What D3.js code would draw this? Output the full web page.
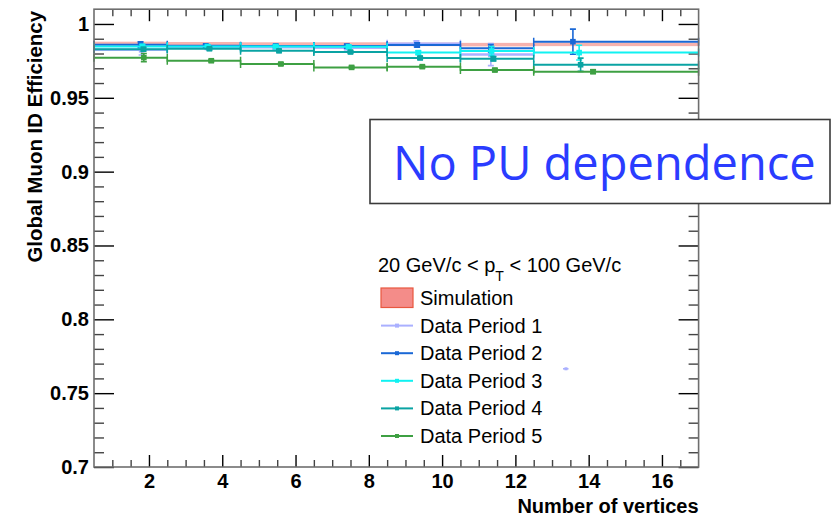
<!DOCTYPE html>
<html>
<head>
<meta charset="utf-8">
<script src="https://cdn.jsdelivr.net/npm/d3@7"></script>
<style>
  html, body { margin: 0; padding: 0; background: #fff; }
  svg { display: block; }
  text { font-family: "Liberation Sans", Arial, Helvetica, sans-serif; }
</style>
</head>
<body>
<svg id="chart" width="832" height="520"></svg>
<script>
// Global muon ID efficiency versus number of reconstructed vertices

// Bin edges in number of vertices
const binEdges = [0.5, 2.5, 4.5, 6.5, 8.5, 10.5, 12.5, 17];

// Simulation: efficiency per bin and its uncertainty (drawn as a band)
const simValues = [0.9868, 0.9866, 0.9864, 0.9864, 0.9862, 0.9860, 0.9862];
const simErrors = [0.0012, 0.0012, 0.0012, 0.0012, 0.0012, 0.0012, 0.0012];

// Data periods: mean vertex count, efficiency and uncertainty per bin
const period1X      = [1.80, 3.60, 5.45, 7.40, 9.30, 11.33, 13.38];
const period1XLow   = [0.5, 2.5, 4.5, 6.5, 8.5, 10.5, 13.30];
const period1XHigh  = [2.5, 4.5, 6.5, 8.5, 10.5, 12.5, 13.45];
const period1Values = [0.9825, 0.9842, 0.9843, 0.9840, 0.9866, 0.9793, 0.7665];
const period1Errors = [0.0035, 0.0015, 0.0015, 0.0015, 0.0020, 0.0075, 0.0002];

const period2X      = [1.77, 3.55, 5.46, 7.40, 9.32, 11.33, 13.57];
const period2Values = [0.9860, 0.9852, 0.9851, 0.9850, 0.9858, 0.9836, 0.9880];
const period2Errors = [0.0020, 0.0010, 0.0010, 0.0012, 0.0015, 0.0025, 0.0085];

const period3X      = [1.82, 3.60, 5.46, 7.45, 9.35, 11.35, 13.74];
const period3Values = [0.9847, 0.9847, 0.9847, 0.9845, 0.9806, 0.9817, 0.9806];
const period3Errors = [0.0015, 0.0010, 0.0010, 0.0010, 0.0012, 0.0030, 0.0050];

const period4X      = [1.85, 3.65, 5.55, 7.50, 9.40, 11.40, 13.78];
const period4Values = [0.9829, 0.9832, 0.9818, 0.9810, 0.9770, 0.9765, 0.9724];
const period4Errors = [0.0012, 0.0008, 0.0008, 0.0008, 0.0010, 0.0015, 0.0045];

const period5X      = [1.86, 3.70, 5.60, 7.53, 9.46, 11.44, 14.12];
const period5Values = [0.9772, 0.9751, 0.9729, 0.9706, 0.9711, 0.9688, 0.9677];
const period5Errors = [0.0028, 0.0008, 0.0008, 0.0008, 0.0008, 0.0010, 0.0012];

const seriesNames = ["Data Period 1", "Data Period 2", "Data Period 3", "Data Period 4", "Data Period 5"];
const seriesColors = ["#aab0ff", "#1a68d6", "#10f2f2", "#0aa3a3", "#3ea043"];

// Axis ticks and labels
const xMajorTicks = [2, 4, 6, 8, 10, 12, 14, 16];
const xTickLabels = ["2", "4", "6", "8", "10", "12", "14", "16"];
const yMajorTicks = [0.7, 0.75, 0.8, 0.85, 0.9, 0.95, 1.0];
const yTickLabels = ["0.7", "0.75", "0.8", "0.85", "0.9", "0.95", "1"];

const xTitle = "Number of vertices";
const yTitle = "Global Muon ID Efficiency";
const annotation = "No PU dependence";

// ---------------------------------------------------------------
const svg = d3.select("#chart");
const plot = { left: 94, right: 698.6, top: 9.2, bottom: 467 };

const x = d3.scaleLinear().domain([0.5, 17]).range([plot.left, plot.right]);
const y = d3.scaleLinear().domain([0.7, 1.01]).range([plot.bottom, plot.top]);

const xMinorTicks = d3.range(1, 17, 0.5).filter(v => !xMajorTicks.some(m => Math.abs(m - v) < 1e-9));
const yMinorTicks = d3.range(0, 31).map(i => +(0.7 + i * 0.01).toFixed(2))
  .filter(v => !yMajorTicks.some(m => Math.abs(m - v) < 1e-9));

const axes = svg.append("g").attr("class", "axes");

function styleAxis(g, color, width) {
  g.select(".domain").remove();
  g.selectAll(".tick line").attr("stroke", color).attr("stroke-width", width);
}

// minor ticks (inward)
axes.append("g").attr("transform", `translate(0,${plot.bottom})`)
  .call(d3.axisBottom(x).tickValues(xMinorTicks).tickSize(-7).tickFormat(""))
  .call(g => styleAxis(g, "#444", 1.4));
axes.append("g").attr("transform", `translate(0,${plot.top})`)
  .call(d3.axisTop(x).tickValues(xMinorTicks).tickSize(-7).tickFormat(""))
  .call(g => styleAxis(g, "#444", 1.4));
axes.append("g").attr("transform", `translate(${plot.left},0)`)
  .call(d3.axisLeft(y).tickValues(yMinorTicks).tickSize(-10).tickFormat(""))
  .call(g => styleAxis(g, "#444", 1.4));
axes.append("g").attr("transform", `translate(${plot.right},0)`)
  .call(d3.axisRight(y).tickValues(yMinorTicks).tickSize(-10).tickFormat(""))
  .call(g => styleAxis(g, "#444", 1.4));

// major ticks with labels
const xAxis = axes.append("g").attr("transform", `translate(0,${plot.bottom})`)
  .call(d3.axisBottom(x).tickValues(xMajorTicks).tickSize(-12).tickPadding(7)
    .tickFormat((d, i) => xTickLabels[i]))
  .call(g => styleAxis(g, "#000", 1.4));
xAxis.selectAll("text").attr("fill", "#000")
  .style("font-size", "20px").style("font-weight", "bold")
  .style("font-family", "'Liberation Sans', Arial, sans-serif");

axes.append("g").attr("transform", `translate(0,${plot.top})`)
  .call(d3.axisTop(x).tickValues(xMajorTicks).tickSize(-12).tickFormat(""))
  .call(g => styleAxis(g, "#000", 1.4));

const yAxis = axes.append("g").attr("transform", `translate(${plot.left},0)`)
  .call(d3.axisLeft(y).tickValues(yMajorTicks).tickSize(-20).tickPadding(5)
    .tickFormat((d, i) => yTickLabels[i]))
  .call(g => styleAxis(g, "#000", 1.4));
yAxis.selectAll("text").attr("fill", "#000")
  .style("font-size", "20px").style("font-weight", "bold")
  .style("font-family", "'Liberation Sans', Arial, sans-serif");

axes.append("g").attr("transform", `translate(${plot.right},0)`)
  .call(d3.axisRight(y).tickValues(yMajorTicks).tickSize(-20).tickFormat(""))
  .call(g => styleAxis(g, "#000", 1.4));

// ---------------------------------------------------------------
// Simulation band
const marks = svg.append("g").attr("class", "marks");
const simBins = simValues.map((v, i) => ({ x0: binEdges[i], x1: binEdges[i + 1], v, e: simErrors[i] }));
marks.append("g").selectAll("rect").data(simBins).join("rect")
  .attr("x", d => x(d.x0))
  .attr("width", d => x(d.x1) - x(d.x0))
  .attr("y", d => y(d.v + d.e))
  .attr("height", d => y(d.v - d.e) - y(d.v + d.e))
  .attr("fill", "#f6a4a0")
  .attr("opacity", 0.85);

// Data periods
const periods = [
  { xs: period1X, lo: period1XLow, hi: period1XHigh, v: period1Values, e: period1Errors, w: 2.6 },
  { xs: period2X, v: period2Values, e: period2Errors, w: 2 },
  { xs: period3X, v: period3Values, e: period3Errors, w: 2 },
  { xs: period4X, v: period4Values, e: period4Errors, w: 2 },
  { xs: period5X, v: period5Values, e: period5Errors, w: 2 }
];

const capX = 4, capY = 3;
periods.forEach((p, k) => {
  const color = seriesColors[k];
  const pts = p.v.map((v, i) => ({
    xm: p.xs[i],
    x0: p.lo ? p.lo[i] : binEdges[i],
    x1: p.hi ? p.hi[i] : binEdges[i + 1],
    v, e: p.e[i]
  }));
  // narrow entries are drawn as a small tick only
  const wide = d => x(d.x1) - x(d.x0) > 12;
  const g = marks.append("g").attr("stroke", color).attr("fill", color);
  const pt = g.selectAll("g").data(pts).join("g");
  // horizontal extent of the bin
  pt.append("line")
    .attr("x1", d => x(d.x0)).attr("x2", d => x(d.x1))
    .attr("y1", d => y(d.v)).attr("y2", d => y(d.v))
    .attr("stroke-width", d => wide(d) ? p.w : 1.6);
  // end caps of the horizontal extent
  pt.filter(wide).append("path")
    .attr("d", d => `M${x(d.x0)},${y(d.v) - capX}V${y(d.v) + capX}M${x(d.x1)},${y(d.v) - capX}V${y(d.v) + capX}`)
    .attr("fill", "none").attr("stroke-width", 1.5);
  // vertical uncertainty
  pt.filter(wide).append("path")
    .attr("d", d => {
      const cx = x(d.xm), t = y(d.v + d.e), b = y(d.v - d.e);
      return `M${cx},${t}V${b}M${cx - capY},${t}H${cx + capY}M${cx - capY},${b}H${cx + capY}`;
    })
    .attr("fill", "none").attr("stroke-width", 1.6);
  // marker
  pt.append("rect")
    .attr("x", d => x(d.xm) - (wide(d) ? 2.8 : 1.5))
    .attr("y", d => y(d.v) - (wide(d) ? 2.8 : 1.5))
    .attr("width", d => wide(d) ? 5.6 : 3).attr("height", d => wide(d) ? 5.6 : 3)
    .attr("stroke", "none");
});

// ---------------------------------------------------------------
// Frame
svg.append("rect")
  .attr("x", plot.left).attr("y", plot.top)
  .attr("width", plot.right - plot.left).attr("height", plot.bottom - plot.top)
  .attr("fill", "none").attr("stroke", "#6e6e6e").attr("stroke-width", 1.6);

// Axis titles
svg.append("text")
  .attr("x", plot.right).attr("y", 513)
  .attr("text-anchor", "end")
  .style("font-size", "20px").style("font-weight", "bold")
  .text(xTitle);

svg.append("text")
  .attr("transform", "translate(41.5,11) rotate(-90)")
  .attr("text-anchor", "end")
  .style("font-size", "20.4px").style("font-weight", "bold")
  .text(yTitle);

// ---------------------------------------------------------------
// Legend
const legend = svg.append("g").attr("class", "legend");
const header = legend.append("text").attr("x", 378).attr("y", 272).style("font-size", "20px");
header.append("tspan").text("20 GeV/c < p");
header.append("tspan").attr("dy", 9).style("font-size", "14px").text("T");
header.append("tspan").attr("dy", -9).text(" < 100 GeV/c");

const rowY = d3.scaleLinear().domain([0, 1]).range([305, 332.6]);
legend.append("rect")
  .attr("x", 381).attr("y", 288).attr("width", 32).attr("height", 19.5)
  .attr("fill", "#f48c89").attr("stroke", "#e8573f").attr("stroke-width", 1.2);
legend.append("text").attr("x", 420).attr("y", rowY(0)).style("font-size", "20px").text("Simulation");

const rows = legend.selectAll("g.row").data(seriesNames).join("g").attr("class", "row");
rows.append("line")
  .attr("x1", 381).attr("x2", 413)
  .attr("y1", (d, i) => rowY(i + 1) - 7).attr("y2", (d, i) => rowY(i + 1) - 7)
  .attr("stroke", (d, i) => seriesColors[i]).attr("stroke-width", 2);
rows.append("rect")
  .attr("x", 395).attr("y", (d, i) => rowY(i + 1) - 9)
  .attr("width", 4).attr("height", 4)
  .attr("fill", (d, i) => seriesColors[i]);
rows.append("text")
  .attr("x", 420).attr("y", (d, i) => rowY(i + 1))
  .style("font-size", "20px")
  .text(d => d);

// ---------------------------------------------------------------
// Annotation box
const note = svg.append("g").attr("class", "note");
note.append("rect")
  .attr("x", 370).attr("y", 119.5).attr("width", 460).attr("height", 84)
  .attr("fill", "#fff").attr("stroke", "#3a3a3a").attr("stroke-width", 1.6);
note.append("text")
  .attr("x", 393).attr("y", 180)
  .style("font-family", "'Open Sans', 'Noto Sans', sans-serif")
  .style("font-size", "47px")
  .attr("fill", "#2a3cff")
  .text(annotation);
</script>
</body>
</html>
